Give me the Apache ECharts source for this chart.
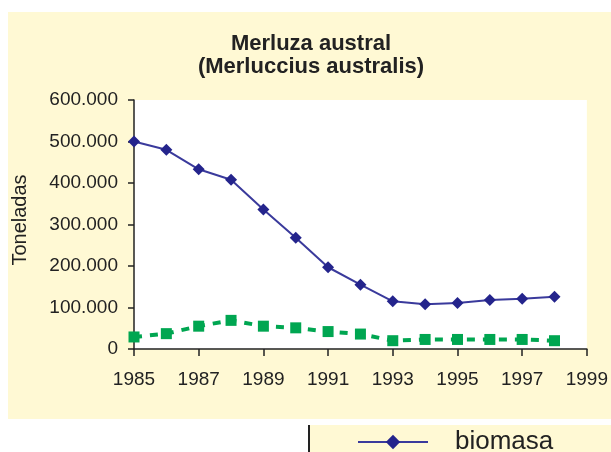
<!DOCTYPE html>
<html>
<head>
<meta charset="utf-8">
<script src="https://cdn.jsdelivr.net/npm/echarts@6/dist/echarts.min.js"></script>
<style>
  html, body { margin: 0; padding: 0; background: #ffffff; }
  #chart { width: 611px; height: 452px; }
</style>
</head>
<body>
<div id="chart"></div>
<script>
const years = [1985, 1986, 1987, 1988, 1989, 1990, 1991, 1992, 1993, 1994, 1995, 1996, 1997, 1998];
const biomasa = [500000, 480000, 433000, 408000, 336000, 268000, 197000, 155000, 115000, 108000, 111000, 118000, 121000, 126000];
const desembarque = [29000, 37000, 55000, 69000, 55000, 51000, 42000, 36000, 20000, 23000, 23000, 23000, 23000, 20000];
const yTicks = [0, 100000, 200000, 300000, 400000, 500000, 600000];
const xTicks = [1985, 1987, 1989, 1991, 1993, 1995, 1997, 1999];

const FONT = '"Liberation Sans", Arial, Helvetica, sans-serif';
const YELLOW = '#FFF9D4';
const INK = '#222222';

function fmtThousands(v) {
  if (v === 0) return '0';
  return String(v).replace(/\B(?=(\d{3})+(?!\d))/g, '.');
}

const chart = echarts.init(document.getElementById('chart'), null, { renderer: 'canvas' });
chart.setOption({
  animation: false,
  backgroundColor: '#ffffff',
  graphic: [
    { type: 'rect', z: -10, shape: { x: 8, y: 12, width: 603, height: 407 }, style: { fill: YELLOW } },
    { type: 'rect', z: -10, shape: { x: 309, y: 425, width: 302, height: 27 }, style: { fill: YELLOW } },
    { type: 'rect', z: -9, shape: { x: 308, y: 425, width: 2, height: 27 }, style: { fill: '#222222' } }
  ],
  title: {
    text: 'Merluza austral\n(Merluccius australis)',
    left: 311,
    textAlign: 'center',
    top: 32,
    padding: 0,
    textStyle: { fontFamily: FONT, fontSize: 22, fontWeight: 'bold', color: INK, lineHeight: 23 }
  },
  legend: {
    data: ['biomasa'],
    left: 357,
    top: 429,
    padding: 0,
    itemWidth: 70,
    itemHeight: 18,
    textStyle: { fontFamily: FONT, fontSize: 26, color: INK, padding: [0, 0, 0, 22] }
  },
  grid: {
    left: 134, right: 21, top: 100, bottom: 103,
    show: true, backgroundColor: '#ffffff', borderWidth: 0
  },
  xAxis: {
    type: 'value',
    min: xTicks[0],
    max: xTicks[xTicks.length - 1],
    interval: 2,
    axisLine: { show: true, lineStyle: { color: INK, width: 1.5 } },
    axisTick: { show: true, length: 7, lineStyle: { color: INK, width: 1.5 } },
    splitLine: { show: false },
    axisLabel: { fontFamily: FONT, fontSize: 19, color: INK, margin: 21, formatter: v => String(v) }
  },
  yAxis: {
    type: 'value',
    min: yTicks[0],
    max: yTicks[yTicks.length - 1],
    interval: 100000,
    name: 'Toneladas',
    nameLocation: 'middle',
    nameRotate: 90,
    nameGap: 104,
    nameTextStyle: { fontFamily: FONT, fontSize: 20, color: INK, padding: [0, 0, 0, 9] },
    axisLine: { show: true, lineStyle: { color: INK, width: 1.5 } },
    axisTick: { show: true, length: 6, lineStyle: { color: INK, width: 1.5 } },
    splitLine: { show: false },
    axisLabel: { fontFamily: FONT, fontSize: 19, color: INK, margin: 16, formatter: fmtThousands }
  },
  series: [
    {
      name: 'desembarque',
      type: 'line',
      data: years.map((y, i) => [y, desembarque[i]]),
      symbol: 'rect',
      symbolSize: 11,
      itemStyle: { color: '#00A651' },
      lineStyle: { color: '#00A651', width: 4, type: [8, 8] },
      z: 2
    },
    {
      name: 'biomasa',
      type: 'line',
      data: years.map((y, i) => [y, biomasa[i]]),
      symbol: 'diamond',
      symbolSize: 12,
      itemStyle: { color: '#24248C' },
      lineStyle: { color: '#3A3A9C', width: 2 },
      z: 3
    }
  ]
});
</script>
</body>
</html>
